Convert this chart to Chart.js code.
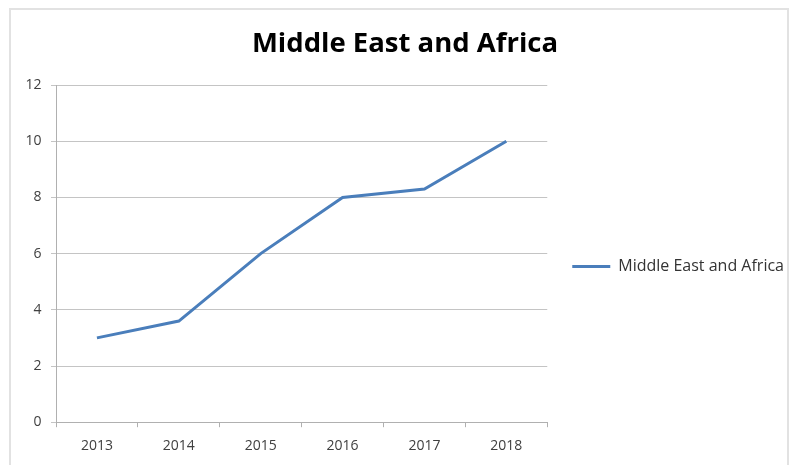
<!DOCTYPE html>
<html>
<head>
<meta charset="utf-8">
<script src="https://cdn.jsdelivr.net/npm/chart.js"></script>
<style>
  html, body { margin: 0; padding: 0; background: #fff; }
  #wrap { position: relative; width: 792px; height: 465px; overflow: hidden; }
  #frame { position: absolute; left: 9px; top: 8px; width: 780px; height: 470px; border: 2px solid #e2e2e2; box-sizing: border-box; }
  canvas { position: absolute; left: 0; top: 0; }
</style>
</head>
<body>
<div id="wrap">
  <div id="frame"></div>
  <canvas id="myChart" width="792" height="465"></canvas>
</div>
<script>
// 数据
const years = ['2013', '2014', '2015', '2016', '2017', '2018'];
const values = [3, 3.6, 6, 8, 8.3, 10];
const seriesName = 'Middle East and Africa';
const yTicks = [0, 2, 4, 6, 8, 10, 12];

const ctx = document.getElementById('myChart').getContext('2d');
new Chart(ctx, {
    type: 'line',
    data: {
        labels: years,
        datasets: [{
            label: seriesName,
            data: values,
            borderColor: '#4a7ebb',
            backgroundColor: '#4a7ebb',
            borderWidth: 3,
            pointRadius: 0,
            tension: 0
        }]
    },
    options: {
        responsive: false,
        animation: false,
        layout: { padding: { left: 16, right: -2, top: 10, bottom: 1 } },
        plugins: {
            title: {
                display: true,
                text: seriesName,
                color: '#000',
                font: { family: 'Open Sans', size: 27.5, weight: 'bold' },
                padding: { top: 18, bottom: 24 }
            },
            legend: {
                position: 'right',
                fullSize: false,
                maxWidth: 260,
                // 空标题只用来把图例往下挪
                title: { display: true, text: '', font: { size: 10 }, padding: { top: 14, bottom: 0 } },
                labels: {
                    usePointStyle: true,
                    pointStyle: 'line',
                    pointStyleWidth: 38,
                    color: '#333',
                    font: { family: 'Open Sans', size: 16 },
                    padding: 10
                }
            },
            tooltip: { enabled: false }
        },
        scales: {
            x: {
                offset: true,
                grid: { display: true, drawOnChartArea: false, tickLength: 5, color: '#b0b0b0', offset: true },
                border: { color: '#b0b0b0', width: 1 },
                ticks: { color: '#404040', font: { family: 'Open Sans', size: 14 }, padding: 10 }
            },
            y: {
                min: 0,
                max: 12,
                afterBuildTicks: (axis) => { axis.ticks = yTicks.map(v => ({ value: v })); },
                grid: { color: '#c4c4c4', tickLength: 5 },
                border: { color: '#b0b0b0', width: 1 },
                ticks: { color: '#404040', font: { family: 'Open Sans', size: 14 }, padding: 9.5 }
            },
            // 右侧留白，把图例推开
            yGap: {
                position: 'right',
                display: true,
                grid: { display: false },
                border: { display: false },
                ticks: { display: false },
                afterFit: (axis) => { axis.width = 15; }
            }
        }
    }
});
</script>
</body>
</html>
